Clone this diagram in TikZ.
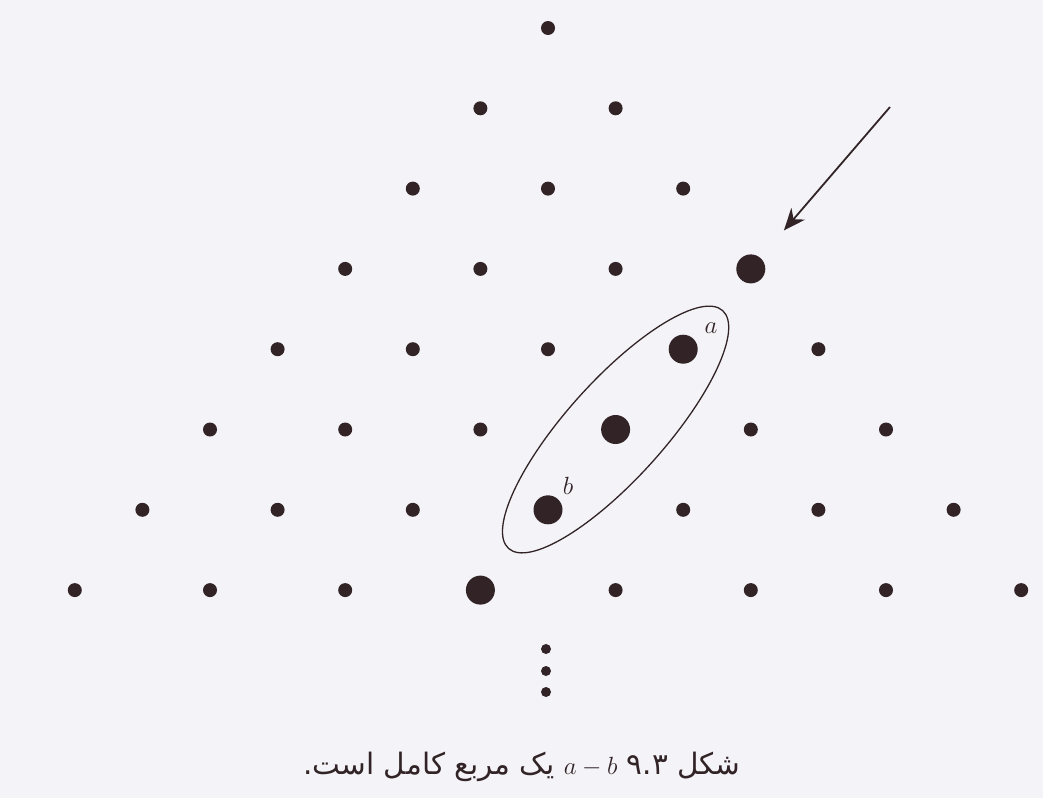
\documentclass[tikz,border=0pt]{standalone}
\usepackage{fontspec}
\usetikzlibrary{arrows.meta}
\newfontfamily\arabicfont[Script=Arabic]{DejaVu Sans}
\TeXXeTstate=1
\definecolor{bgcol}{RGB}{244,244,248}
\definecolor{ink}{RGB}{50,36,38}
\tikzset{
  dot/.style={circle, fill=ink, inner sep=0pt, minimum size=14pt},
  vdot/.style={circle, fill=ink, inner sep=0pt, minimum size=10pt},
  lbl/.style={text=ink, font=\fontsize{33}{35}\selectfont, inner sep=0pt},
  pointer/.style={draw=ink, line width=1.8pt, -{Stealth[length=22pt,width=18pt]}, shorten >=36pt},
  ring/.style={draw=ink, line width=1.3pt},
  caption/.style={text=ink, font=\arabicfont\fontsize{29.5}{33}\selectfont, inner sep=0pt}
}
\begin{document}
\begin{tikzpicture}[x=1pt,y=-1pt]
\fill[bgcol] (0,0) rectangle (1043,798);
\useasboundingbox (0,0) rectangle (1043,798);
% triangular lattice of dots
\foreach \r in {0,...,7}{
  \foreach \k in {0,...,\r}{
    \pgfmathsetmacro\sz{(\k==3 && \r>2) ? 29 : 14}
    \node[dot, minimum size=\sz pt] (d\r\k) at ({548-\r*67.6+\k*135.2},{28+\r*80.3}) {};
  }
}
% vertical ellipsis dots
\node[vdot] (v1) at (546,649) {};
\node[vdot] (v2) at (546,671) {};
\node[vdot] (v3) at (546,692) {};
% arrow
\coordinate (arrowstart) at (890,107);
\draw[pointer] (arrowstart) -- (d33);
% ellipse around a, centre and b
\draw[ring, rotate around={48:(d53)}] (d53) ellipse [x radius=160, y radius=49];
% labels
\node[lbl] (la) at (711,328) {$a$};
\node[lbl] (lb) at (568,486) {$b$};
% caption
\node[caption] (cap) at (522,767) {\beginR شکل ۹.۳ \mbox{$a - b$} یک مربع کامل است.\endR};
\end{tikzpicture}
\end{document}
